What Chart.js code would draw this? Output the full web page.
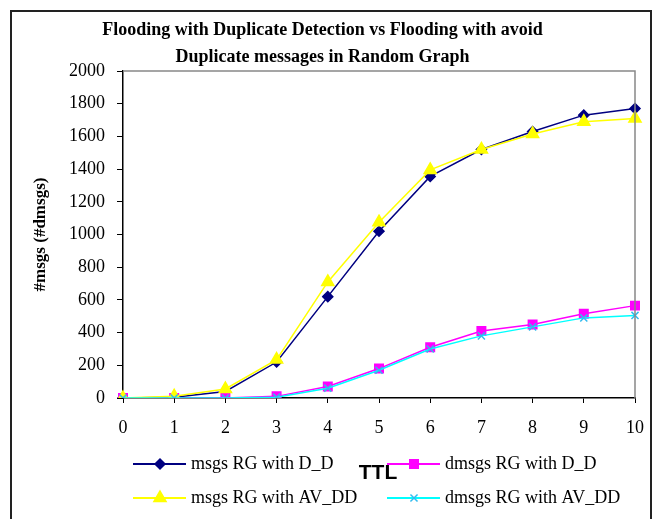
<!DOCTYPE html>
<html lang="en">
<head>
  <meta charset="UTF-8">
  <title>Flooding with Duplicate Detection vs Flooding with avoid Duplicate messages</title>
  <style>
    html, body {
      margin: 0;
      padding: 0;
      background: #fff;
    }
    #wrap {
      width: 658px;
      height: 519px;
    }
  </style>
  <script src="https://cdn.jsdelivr.net/npm/chart.js"></script>
</head>
<body>
  <div id="wrap"><canvas id="chart" width="658" height="519"></canvas></div>

  <script>
    const ttl = ['0', '1', '2', '3', '4', '5', '6', '7', '8', '9', '10'];
    const msgsDD = [0, 5, 40, 220, 620, 1020, 1355, 1520, 1630, 1730, 1770];
    const dmsgsDD = [0, 0, 0, 10, 70, 180, 310, 410, 450, 515, 565];
    const msgsAVDD = [0, 10, 55, 235, 710, 1075, 1395, 1520, 1615, 1690, 1710];
    const dmsgsAVDD = [0, 0, 0, 5, 60, 170, 300, 380, 435, 490, 505];
    const yTicks = [0, 200, 400, 600, 800, 1000, 1200, 1400, 1600, 1800, 2000];

    const serif = "'Liberation Serif', 'Times New Roman', serif";

    // frame, gray plot box, TTL and the two-column legend
    const decor = {
      id: 'decor',
      afterDraw(chart) {
        const ctx = chart.ctx;
        const a = chart.chartArea;
        ctx.save();
        ctx.strokeStyle = '#888';
        ctx.lineWidth = 1.5;
        ctx.beginPath();
        ctx.moveTo(a.left, a.top);
        ctx.lineTo(a.right, a.top);
        ctx.lineTo(a.right, a.bottom);
        ctx.stroke();

        ctx.strokeStyle = '#222';
        ctx.lineWidth = 2;
        ctx.strokeRect(11, 11, 640, 530);

        const items = [
          { ds: 0, x: 133, y: 464 },
          { ds: 1, x: 387, y: 464 },
          { ds: 2, x: 133, y: 498 },
          { ds: 3, x: 387, y: 498 }
        ];
        items.forEach(it => {
          const d = chart.data.datasets[it.ds];
          ctx.strokeStyle = d.borderColor;
          ctx.lineWidth = 2;
          ctx.beginPath();
          ctx.moveTo(it.x, it.y);
          ctx.lineTo(it.x + 53, it.y);
          ctx.stroke();
          ctx.fillStyle = d.pointBackgroundColor;
          ctx.strokeStyle = d.pointBorderColor;
          ctx.lineWidth = 1.5;
          Chart.helpers.drawPoint(ctx, {
            pointStyle: d.pointStyle,
            radius: d.pointRadius,
            rotation: 0,
            borderWidth: 1.5
          }, it.x + 27, it.y);
          ctx.fillStyle = '#000';
          ctx.font = '18px ' + serif;
          ctx.textBaseline = 'middle';
          ctx.textAlign = 'left';
          ctx.fillText(d.label, it.x + 58, it.y);
        });

        ctx.fillStyle = '#000';
        ctx.font = "bold 21px 'Liberation Sans', Arial, sans-serif";
        ctx.textAlign = 'center';
        ctx.textBaseline = 'middle';
        ctx.fillText('TTL', 378, 473);
        ctx.restore();
      }
    };

    new Chart(document.getElementById('chart'), {
      type: 'line',
      data: {
        labels: ttl,
        datasets: [
          {
            label: 'msgs RG with D_D',
            data: msgsDD,
            borderColor: '#000080',
            backgroundColor: '#000080',
            pointBackgroundColor: '#000080',
            pointBorderColor: '#000080',
            pointStyle: 'rectRot',
            pointRadius: 5,
            borderWidth: 1.5,
            order: 4
          },
          {
            label: 'dmsgs RG with D_D',
            data: dmsgsDD,
            borderColor: '#ff00ff',
            backgroundColor: '#ff00ff',
            pointBackgroundColor: '#ff00ff',
            pointBorderColor: '#ff00ff',
            pointStyle: 'rect',
            pointRadius: 6,
            borderWidth: 1.5,
            order: 3
          },
          {
            label: 'msgs RG with AV_DD',
            data: msgsAVDD,
            borderColor: '#ffff00',
            backgroundColor: '#ffff00',
            pointBackgroundColor: '#ffff00',
            pointBorderColor: '#ffff00',
            pointStyle: 'triangle',
            pointRadius: 7,
            borderWidth: 1.5,
            order: 2
          },
          {
            label: 'dmsgs RG with AV_DD',
            data: dmsgsAVDD,
            borderColor: '#00ffff',
            backgroundColor: '#00ffff',
            pointBackgroundColor: '#00ffff',
            pointBorderColor: '#33bbee',
            pointStyle: 'crossRot',
            pointRadius: 5,
            pointBorderWidth: 1.5,
            borderWidth: 1.5,
            order: 1
          }
        ]
      },
      options: {
        responsive: false,
        animation: false,
        layout: { padding: { top: 11, left: 0, right: 13, bottom: 80 } },
        plugins: {
          legend: { display: false },
          tooltip: { enabled: false },
          title: {
            display: true,
            text: ['Flooding with Duplicate Detection vs Flooding with avoid',
                   'Duplicate messages in Random Graph'],
            color: '#000',
            font: { family: serif, size: 18, weight: 'bold', lineHeight: 1.5 },
            padding: { top: 5.5, bottom: 0.5 }
          }
        },
        scales: {
          x: {
            offset: false,
            grid: { drawOnChartArea: false, drawTicks: true, tickLength: 5, color: '#000' },
            border: { color: '#000', width: 1.5 },
            ticks: { color: '#000', font: { family: serif, size: 18 }, padding: 14, maxRotation: 0 },
            afterFit: s => { s.height = 41; }
          },
          y: {
            min: 0,
            max: 2000,
            afterBuildTicks: s => { s.ticks = yTicks.map(v => ({ value: v })); },
            grid: { drawOnChartArea: false, drawTicks: true, tickLength: 6, color: '#000' },
            border: { color: '#000', width: 1.5 },
            ticks: {
              color: '#000',
              font: { family: serif, size: 18 },
              padding: 12,
              callback: v => String(v)
            },
            title: {
              display: true,
              text: '#msgs (#dmsgs)',
              color: '#000',
              font: { family: serif, size: 17, weight: 'bold' },
              padding: { top: 30 }
            },
            afterFit: s => { s.width = 123; }
          }
        }
      },
      plugins: [decor]
    });
  </script>
</body>
</html>
